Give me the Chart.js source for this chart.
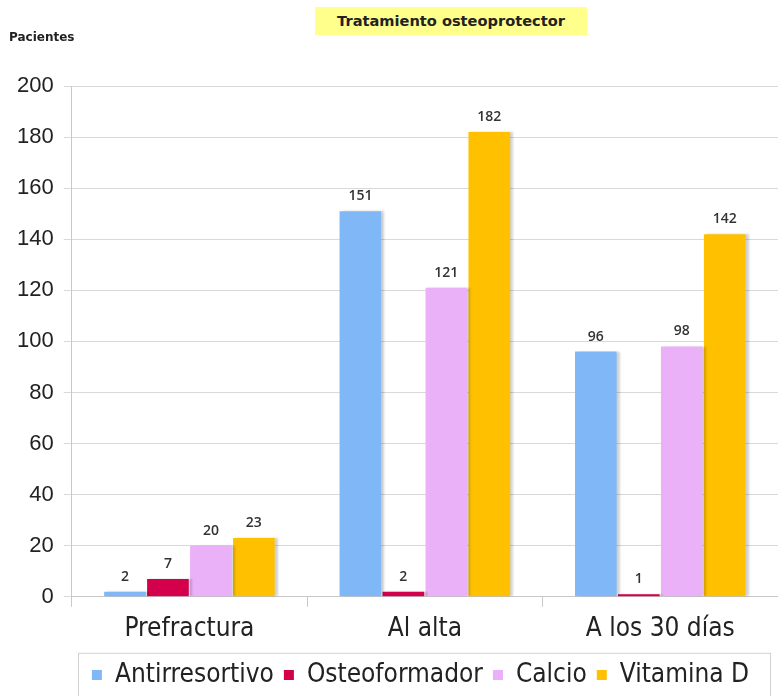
<!DOCTYPE html>
<html>
<head>
<meta charset="utf-8">
<script src="https://cdn.jsdelivr.net/npm/chart.js@4.4.1/dist/chart.umd.min.js"></script>
<style>
  html, body { margin: 0; padding: 0; background: #fff; }
  #wrap { position: relative; width: 778px; height: 696px; overflow: hidden; }
  #title {
    position: absolute; left: 315px; top: 7px; width: 272px; height: 28px;
    background: #ffff8c; font: bold 14.6px "DejaVu Sans", sans-serif; color: #222;
    text-align: center; line-height: 28px;
  }
  #ylabel {
    position: absolute; left: 9px; top: 30px;
    font: bold 12px "DejaVu Sans", sans-serif; color: #222;
  }
  canvas { position: absolute; left: 0; top: 0; }
</style>
</head>
<body>
<div id="wrap">
  <canvas id="myChart" width="778" height="700"></canvas>
  <div id="title">Tratamiento osteoprotector</div>
  <div id="ylabel">Pacientes</div>
</div>
<script>
// categories and series
var categories = ['Prefractura', 'Al alta', 'A los 30 días'];
var antirresortivo = [2, 151, 96];
var osteoformador = [7, 2, 1];
var calcio = [20, 121, 98];
var vitaminaD = [23, 182, 142];
var yTicks = [0, 20, 40, 60, 80, 100, 120, 140, 160, 180, 200];

// value labels above bars
var barLabels = {
    id: 'barLabels',
    afterDatasetsDraw(chart) {
        let ctx = chart.ctx;
        ctx.save();
        ctx.font = '600 14px "Open Sans", sans-serif';
        ctx.fillStyle = '#333';
        ctx.textAlign = 'center';
        ctx.textBaseline = 'bottom';
        chart.data.datasets.forEach((ds, i) => {
            chart.getDatasetMeta(i).data.forEach((bar, j) => {
                ctx.fillText(ds.data[j], bar.x, bar.y - 8);
            });
        });
        ctx.restore();
    }
};

// soft shadow to the right of the bars
var barShadow = {
    id: 'barShadow',
    beforeDatasetsDraw(chart) {
        let ctx = chart.ctx;
        ctx.save();
        ctx.shadowColor = 'rgba(0,0,0,0.18)';
        ctx.shadowOffsetX = 3;
        ctx.shadowOffsetY = 0;
        ctx.shadowBlur = 2;
    },
    afterDatasetsDraw(chart) {
        chart.ctx.restore();
    }
};

// legend sits right of centre in the original, inside a light frame
var legendBox = {
    id: 'legendBox',
    afterLayout(chart) {
        let lg = chart.legend;
        lg.left += 28;
        lg.right += 28;
    },
    afterDraw(chart) {
        let ctx = chart.ctx;
        ctx.save();
        ctx.strokeStyle = '#d0d0d0';
        ctx.lineWidth = 1;
        ctx.strokeRect(78.5, chart.chartArea.bottom + 56.5, 692, 60);
        ctx.restore();
    }
};

function init() {
    let data = {
        labels: categories,
        datasets: [
            { label: 'Antirresortivo', data: antirresortivo, backgroundColor: '#80b7f6' },
            { label: 'Osteoformador', data: osteoformador, backgroundColor: '#d4004c' },
            { label: 'Calcio', data: calcio, backgroundColor: '#ebb1f8' },
            { label: 'Vitamina D', data: vitaminaD, backgroundColor: '#ffc000' }
        ]
    };

    let config = {
        type: 'bar',
        data,
        options: {
            responsive: false,
            animation: false,
            categoryPercentage: 0.73,
            barPercentage: 0.97,
            layout: { padding: { top: 86, right: 0, left: 7, bottom: 2 } },
            plugins: {
                legend: {
                    position: 'bottom',
                    labels: {
                        font: { family: 'DejaVu Sans Condensed, DejaVu Sans', size: 26 },
                        color: '#222',
                        boxWidth: 10,
                        boxHeight: 10,
                        padding: 10
                    }
                },
                tooltip: { enabled: false }
            },
            scales: {
                x: {
                    grid: { drawOnChartArea: false, tickLength: 10, color: '#c8c8c8' },
                    border: { color: '#c8c8c8' },
                    ticks: {
                        font: { family: 'DejaVu Sans Condensed, DejaVu Sans', size: 26 },
                        color: '#222',
                        padding: 7
                    }
                },
                y: {
                    min: 0,
                    max: 200,
                    afterBuildTicks(axis) {
                        axis.ticks = yTicks.map(v => ({ value: v }));
                    },
                    grid: { color: '#d9d9d9', tickLength: 8 },
                    border: { color: '#c8c8c8' },
                    ticks: {
                        font: { family: 'Liberation Sans', size: 22 },
                        color: '#222',
                        padding: 10
                    }
                }
            }
        },
        plugins: [barShadow, barLabels, legendBox]
    };

    myChart = new Chart(document.getElementById('myChart'), config);
}

init();
</script>
</body>
</html>
